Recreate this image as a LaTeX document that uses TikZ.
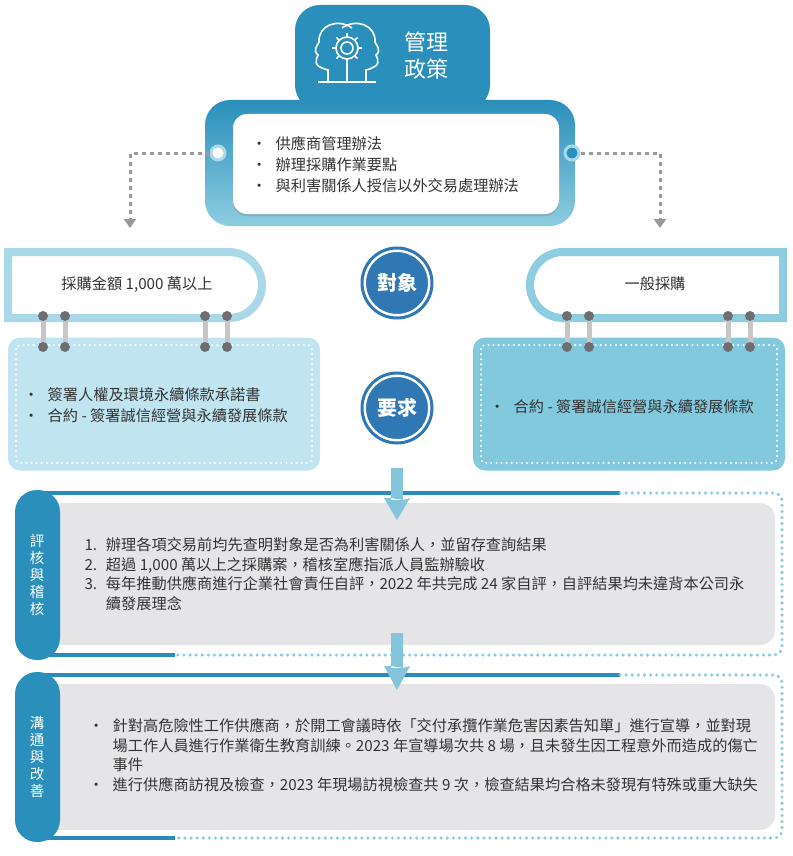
\documentclass[tikz,border=0pt]{standalone}
\usepackage{fontspec}
\setmainfont{Noto Sans CJK TC}
\usetikzlibrary{arrows.meta,calc,shadows}
\definecolor{teal}{HTML}{2A8FBA}
\definecolor{tealL}{HTML}{8ECDE0}
\definecolor{lblue}{HTML}{A9D9E9}
\definecolor{boxL}{HTML}{C0E4F0}
\definecolor{boxR}{HTML}{82C9DE}
\definecolor{dblue}{HTML}{2F78B3}
\definecolor{gbox}{HTML}{E5E5E8}
\definecolor{ring}{HTML}{6E6E72}
\definecolor{txt}{HTML}{333333}
\newcommand{\bl}{·\hspace{9pt}}
\tikzset{
 body/.style={font=\fontsize{15.2}{21}\selectfont,text=txt,align=left,anchor=west},
 circ/.style={circle,fill=dblue,draw=white,line width=2.5pt,double=dblue,double distance=3pt,minimum size=70pt,text=white,font=\fontsize{20}{22}\selectfont\bfseries},
 dasharr/.style={draw=gray!80,line width=3pt,dash pattern=on 4pt off 4pt,-{Triangle[length=9pt,width=12pt]}},
 downarr/.style={draw=none,fill=tealL!90!dblue},
 tab/.style={fill=teal},
 ringbar/.style={line width=5pt,draw=gray!45},
 vtext/.style={text=white,font=\fontsize{14.5}{17}\selectfont,align=center},
}
\begin{document}
\begin{tikzpicture}[x=1pt,y=-1pt]
\useasboundingbox (0,0) rectangle (792,856);
% top tab
\path[tab,rounded corners=25] (295,110) -- (295,5) -- (490,5) -- (490,110) -- cycle;
\node[text=white,font=\fontsize{22}{27}\selectfont,align=left] (title) at (426,56) {管理\\政策};
% icon
\begin{scope}[draw=white,line width=1.6pt]
 \draw (347,48) circle (6);
 \draw (347,48) circle (11);
 \foreach \a in {0,45,...,315}{\draw ($(347,48)+(\a:11)$) -- ($(347,48)+(\a:15)$);}
 \draw (328,82) -- (328,70) .. controls (312,66) and (316,60) .. (318,55) .. controls (312,50) and (318,45) .. (319,42) .. controls (318,25) and (338,18) .. (352,28);
 \draw (366,82) -- (366,70) .. controls (382,66) and (378,60) .. (376,55) .. controls (382,50) and (376,45) .. (375,42) .. controls (376,25) and (356,18) .. (342,28);
 \draw (347,63) -- (347,82); \draw (318,82) -- (376,82);
\end{scope}
% main box
\shade[top color=teal,bottom color=tealL,rounded corners=25] (205,100) rectangle (575,226);
\node[fill=white,rounded corners=14,minimum width=326pt,minimum height=100pt,drop shadow={shadow xshift=0pt,shadow yshift=-2pt,opacity=.35}] (pol) at (396,164) {};
\node[body] (poltxt) at (248,165) {\bl 供應商管理辦法\\\bl 辦理採購作業要點\\\bl 與利害關係人授信以外交易處理辦法};
\node[circle,draw=lblue,line width=3pt,fill=white,minimum size=14pt,inner sep=0] (cl) at (218,153) {};
\node[circle,draw=lblue,line width=3pt,fill=teal,minimum size=14pt,inner sep=0] (cr) at (572,153) {};
\coordinate (al) at (130,228); \coordinate (ar) at (660,228);
\draw[dasharr] (cl.west) -| (al);
\draw[dasharr] (cr.east) -| (ar);
% left label
\path[fill=white,draw=lblue,line width=8pt] (8,252) [rounded corners=33] -- (262,252) -- (262,318) [sharp corners] -- (8,318) -- cycle;
\node[font=\fontsize{15.2}{17}\selectfont,text=txt] (ll) at (137,284) {採購金額 1,000 萬以上};
% right label
\path[fill=white,draw=tealL,line width=8pt] (783,252) [rounded corners=33] -- (530,252) -- (530,318) [sharp corners] -- (783,318) -- cycle;
\node[font=\fontsize{15.2}{17}\selectfont,text=txt] (rl) at (655,284) {一般採購};
% content boxes
\node[fill=boxL,rounded corners=12,minimum width=312pt,minimum height=133pt] (lbox) at (164,404) {};
\draw[white,line width=2.2pt,dash pattern=on 0.1pt off 5pt,line cap=round,rounded corners=4] (16,345) rectangle (312,463);
\node[body] (ltxt) at (20,405) {\bl 簽署人權及環境永續條款承諾書\\\bl 合約 - 簽署誠信經營與永續發展條款};
\node[fill=boxR,rounded corners=12,minimum width=312pt,minimum height=133pt] (rbox) at (629,404) {};
\draw[white,line width=2.2pt,dash pattern=on 0.1pt off 5pt,line cap=round,rounded corners=4] (481,345) rectangle (777,463);
\node[body] (rtxt) at (486,407) {\bl 合約 - 簽署誠信經營與永續發展條款};
% rings
\foreach \x in {43,65,205,227,567,589,728,750}{
 \draw[ringbar] (\x,318) -- (\x,345);
 \fill[ring] (\x,316) circle (5); \fill[ring] (\x,347) circle (5);
}
% circles
\node[circ] (obj) at (397,283) {對象};
\node[circ] (req) at (397,408) {要求};
% section 1
\draw[teal!80!dblue,line width=4pt] (40,493) -- (620,493);
\draw[tealL,line width=3.5pt,dash pattern=on 0.1pt off 6pt,line cap=round,rounded corners=8] (620,493) -- (782,493) -- (782,655) -- (175,655);
\draw[teal!80!dblue,line width=4pt] (40,655) -- (175,655);
\node[fill=gbox,rounded corners=15,minimum width=730pt,minimum height=142pt] (s1) at (410,574) {};
\path[tab,rounded corners=22] (60,490) -- (15,490) -- (15,660) -- (60,660) -- cycle;
\node[vtext] (t1) at (37,575) {評\\核\\與\\稽\\核};
\node[body,font=\fontsize{15.2}{19.5}\selectfont] (s1t) at (81,574) {1.\; 辦理各項交易前均先查明對象是否為利害關係人，並留存查詢結果\\2.\; 超過 1,000 萬以上之採購案，稽核室應指派人員監辦驗收\\3.\; 每年推動供應商進行企業社會責任自評，2022 年共完成 24 家自評，自評結果均未違背本公司永\\\phantom{3.\; }續發展理念};
% section 2
\draw[teal!80!dblue,line width=4pt] (40,675) -- (620,675);
\draw[tealL,line width=3.5pt,dash pattern=on 0.1pt off 6pt,line cap=round,rounded corners=8] (620,675) -- (782,675) -- (782,838) -- (175,838);
\draw[teal!80!dblue,line width=4pt] (40,838) -- (175,838);
\node[fill=gbox,rounded corners=15,minimum width=730pt,minimum height=146pt] (s2) at (410,757) {};
\path[tab,rounded corners=22] (60,672) -- (15,672) -- (15,842) -- (60,842) -- cycle;
\node[vtext] (t2) at (37,757) {溝\\通\\與\\改\\善};
\node[body,font=\fontsize{15.2}{19.5}\selectfont] (s2t) at (85,755) {\bl 針對高危險性工作供應商，於開工會議時依「交付承攬作業危害因素告知單」進行宣導，並對現\\\phantom{\bl}場工作人員進行作業衛生教育訓練。2023 年宣導場次共 8 場，且未發生因工程意外而造成的傷亡\\\phantom{\bl}事件\\\bl 進行供應商訪視及檢查，2023 年現場訪視檢查共 9 次，檢查結果均合格未發現有特殊或重大缺失};
% down arrows
\fill[downarr] (391,468) rectangle (403,500) -- (410,498) -- (397,520) -- (384,498) -- (391,498);
\fill[downarr] (391,633) rectangle (403,668) -- (410,666) -- (397,690) -- (384,666) -- (391,666);
\end{tikzpicture}
\end{document}
